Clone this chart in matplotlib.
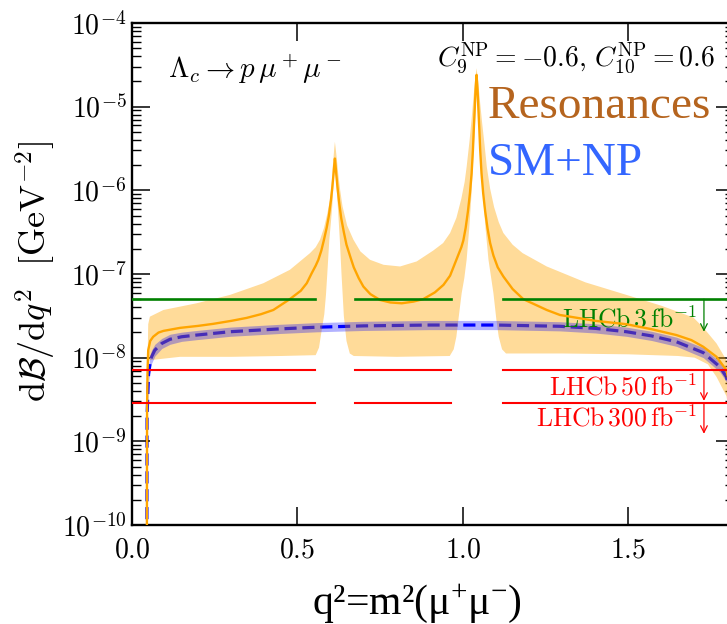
import numpy as np
import matplotlib
matplotlib.use("Agg")
from matplotlib import pyplot as plt
from matplotlib.ticker import FixedLocator, LogLocator, FuncFormatter, NullLocator

plt.rcParams["mathtext.fontset"] = "cm"
plt.rcParams["mathtext.rm"] = "Liberation Serif"
plt.rcParams["mathtext.it"] = "Liberation Serif:italic"
plt.rcParams["font.family"] = ["DejaVu Serif"]

# --- data (values as log10 of dB/dq^2) ---
# resonance curve (orange line)
res_q2 = [0.0447, 0.0455, 0.047, 0.049, 0.055, 0.064, 0.080, 0.095, 0.145, 0.200, 0.245, 0.300,
          0.346, 0.390, 0.427, 0.477, 0.510, 0.528, 0.543, 0.555, 0.563, 0.572, 0.580, 0.588,
          0.595, 0.601, 0.605, 0.609, 0.611, 0.613, 0.615, 0.617, 0.621, 0.626, 0.632, 0.640,
          0.648, 0.660, 0.670, 0.685, 0.699, 0.720, 0.749, 0.780, 0.815, 0.850, 0.880, 0.915,
          0.941, 0.961, 0.981, 0.995, 1.001, 1.008, 1.015, 1.021, 1.026, 1.030, 1.033, 1.036,
          1.038, 1.041, 1.044, 1.046, 1.049, 1.052, 1.056, 1.061, 1.067, 1.074, 1.082, 1.092,
          1.105, 1.122, 1.150, 1.182, 1.253, 1.293, 1.400, 1.494, 1.570, 1.645, 1.690, 1.726,
          1.766, 1.796, 1.810, 1.817]
res_log = [-11.0, -8.60, -8.15, -7.91, -7.80, -7.75, -7.70, -7.68, -7.644, -7.62, -7.596, -7.56,
           -7.525, -7.48, -7.43, -7.30, -7.20, -7.11, -6.99, -6.90, -6.83, -6.72, -6.59, -6.45,
           -6.30, -6.12, -5.97, -5.80, -5.70, -5.62, -5.70, -5.80, -5.97, -6.15, -6.33, -6.50,
           -6.65, -6.80, -6.92, -7.05, -7.15, -7.24, -7.31, -7.34, -7.35, -7.33, -7.30, -7.22,
           -7.13, -7.02, -6.82, -6.68, -6.60, -6.45, -6.25, -6.035, -5.80, -5.52, -5.24, -4.98,
           -4.80, -4.62, -4.80, -4.98, -5.24, -5.52, -5.80, -6.035, -6.25, -6.45, -6.63, -6.78,
           -6.92, -7.03, -7.18, -7.30, -7.43, -7.49, -7.56, -7.60, -7.66, -7.73, -7.79, -7.87,
           -7.99, -8.15, -8.40, -9.50]

# resonance uncertainty band, upper edge
band_hi_q2 = [0.0447, 0.046, 0.049, 0.054, 0.095, 0.195, 0.296, 0.397, 0.477, 0.538, 0.555,
              0.568, 0.580, 0.590, 0.598, 0.603, 0.606, 0.609, 0.611, 0.613, 0.616, 0.619,
              0.623, 0.629, 0.636, 0.650, 0.669, 0.690, 0.719, 0.760, 0.810, 0.860, 0.910,
              0.940, 0.961, 0.980, 0.995, 1.005, 1.011, 1.020, 1.026, 1.031, 1.036, 1.041,
              1.046, 1.051, 1.058, 1.065, 1.072, 1.082, 1.094, 1.108, 1.122, 1.150, 1.180,
              1.253, 1.370, 1.494, 1.600, 1.696, 1.726, 1.766, 1.796, 1.810, 1.817]
band_hi_log = [-11.0, -8.30, -7.60, -7.51, -7.43, -7.35, -7.25, -7.11, -6.95, -6.75, -6.68,
               -6.59, -6.45, -6.28, -6.115, -5.95, -5.75, -5.60, -5.50, -5.42, -5.52, -5.63,
               -5.80, -6.00, -6.19, -6.42, -6.59, -6.73, -6.83, -6.89, -6.91, -6.85, -6.72,
               -6.63, -6.51, -6.33, -6.10, -5.90, -5.72, -5.40, -5.15, -4.92, -4.70, -4.54,
               -4.70, -4.92, -5.20, -5.45, -5.72, -5.98, -6.20, -6.38, -6.51, -6.65, -6.75,
               -6.91, -7.10, -7.25, -7.38, -7.52, -7.64, -7.83, -8.03, -8.30, -9.50]

# resonance uncertainty band, lower edge
band_lo_q2 = [0.0447, 0.0465, 0.050, 0.054, 0.145, 0.300, 0.450, 0.555, 0.565, 0.572, 0.581,
              0.586, 0.590, 0.596, 0.601, 0.605, 0.608, 0.611, 0.613, 0.616, 0.619, 0.622,
              0.625, 0.628, 0.633, 0.640, 0.648, 0.658, 0.670, 0.800, 0.960, 0.972, 0.980,
              0.986, 0.996, 1.004, 1.011, 1.019, 1.026, 1.031, 1.036, 1.041, 1.048, 1.054,
              1.060, 1.068, 1.077, 1.092, 1.101, 1.108, 1.118, 1.130, 1.300, 1.500, 1.650,
              1.700, 1.740, 1.766, 1.796, 1.810, 1.817]
band_lo_log = [-11.0, -8.50, -8.05, -8.03, -7.99, -7.99, -7.98, -7.97, -7.88, -7.70, -7.48,
               -7.25, -7.00, -6.60, -6.38, -6.19, -6.00, -5.80, -5.68, -5.85, -6.02, -6.20,
               -6.40, -6.60, -7.00, -7.50, -7.80, -7.95, -7.98, -7.99, -7.98, -7.90, -7.75,
               -7.55, -7.23, -7.05, -6.83, -6.45, -6.03, -5.62, -5.24, -4.80, -5.24, -5.62,
               -6.03, -6.45, -6.83, -7.23, -7.55, -7.75, -7.90, -7.95, -7.95, -7.96, -7.98,
               -8.00, -8.08, -8.23, -8.46, -8.80, -11.0]

# SM+NP curve (dashed) with its band half-width
sm_q2 = [0.0447, 0.0455, 0.050, 0.055, 0.059, 0.069, 0.090, 0.115, 0.150, 0.195, 0.296, 0.447,
         0.558, 0.700, 0.900, 1.100, 1.293, 1.400, 1.494, 1.570, 1.645, 1.726, 1.776, 1.796,
         1.810, 1.817]
sm_log = [-11.0, -8.70, -8.20, -8.05, -7.99, -7.91, -7.83, -7.78, -7.75, -7.73, -7.69, -7.656,
          -7.636, -7.62, -7.61, -7.61, -7.625, -7.65, -7.69, -7.74, -7.81, -7.94, -8.11, -8.23,
          -8.50, -9.50]
sm_err = [0.10, 0.10, 0.10, 0.09, 0.08, 0.07, 0.06, 0.06, 0.055, 0.055, 0.055, 0.055,
          0.055, 0.055, 0.055, 0.055, 0.055, 0.055, 0.055, 0.055, 0.055, 0.06, 0.06, 0.06,
          0.06, 0.06]

# LHCb limits
lim_3fb = 5.0e-8
lim_50fb = 7.1e-9
lim_300fb = 2.9e-9
seg_edges = [(0.0, 0.553), (0.674, 0.963), (1.122, 1.82)]
arrow_q2 = 1.728

xticks = [0.0, 0.5, 1.0, 1.5]

# --- figure ---
fig = plt.figure(figsize=(7.27, 6.24), dpi=100)
ax = fig.add_axes([132 / 727, 99 / 624, 602.4 / 727, 502 / 624])

res = 10 ** np.array(res_log)
hi = 10 ** np.array(band_hi_log)
lo = 10 ** np.array(band_lo_log)
sm = 10 ** np.array(sm_log)
sm_hi = 10 ** (np.array(sm_log) + np.array(sm_err))
sm_lo = 10 ** (np.array(sm_log) - np.array(sm_err))

# band as polygon: upper edge then lower edge reversed
poly_x = np.concatenate([band_hi_q2, band_lo_q2[::-1]])
poly_y = np.concatenate([hi, lo[::-1]])

ax.plot(sm_q2, sm, color="blue", lw=2.3, dashes=(3.8, 1.8), zorder=1)
ax.fill(poly_x, poly_y, color="orange", alpha=0.4, lw=0, zorder=2)
ax.fill_between(sm_q2, sm_lo, sm_hi, color="blue", alpha=0.3, lw=0, zorder=3)
ax.plot(res_q2, res, color="orange", lw=1.7, zorder=4)

for a, b in seg_edges:
    ax.plot([a, b], [lim_3fb, lim_3fb], color="green", lw=1.9, zorder=5)
    ax.plot([a, b], [lim_50fb, lim_50fb], color="red", lw=1.5, zorder=5)
    ax.plot([a, b], [lim_300fb, lim_300fb], color="red", lw=1.5, zorder=5)

arr = dict(arrowstyle="->", lw=0.9, shrinkA=0, shrinkB=0, mutation_scale=12)
ax.annotate("", xy=(arrow_q2, 2.04e-8), xytext=(arrow_q2, lim_3fb),
            arrowprops=dict(arr, color="green"), zorder=6)
ax.annotate("", xy=(arrow_q2, 3.05e-9), xytext=(arrow_q2, lim_50fb),
            arrowprops=dict(arr, color="red"), zorder=6)
ax.annotate("", xy=(arrow_q2, 1.23e-9), xytext=(arrow_q2, lim_300fb),
            arrowprops=dict(arr, color="red"), zorder=6)

ax.text(1.707, 2.3e-8, r"$\mathrm{LHCb}\,3\,\mathrm{fb}^{-1}$", color="green",
        fontsize=18.5, ha="right", va="baseline", math_fontfamily="cm")
ax.text(1.707, 3.55e-9, r"$\mathrm{LHCb}\,50\,\mathrm{fb}^{-1}$", color="red",
        fontsize=18.5, ha="right", va="baseline", math_fontfamily="cm")
ax.text(1.707, 1.5e-9, r"$\mathrm{LHCb}\,300\,\mathrm{fb}^{-1}$", color="red",
        fontsize=18.5, ha="right", va="baseline", math_fontfamily="cm")

ax.text(0.06, 0.890, r"$\Lambda_c \to p\,\mu^+\mu^-$", transform=ax.transAxes,
        fontsize=21, ha="left", va="baseline")
ax.text(0.968, 0.912, r"$C_9^{\rm NP}=-0.6,\,C_{10}^{\rm NP}=0.6$", transform=ax.transAxes,
        fontsize=20, ha="right", va="baseline")
ax.text(0.591, 0.811, "Resonances", transform=ax.transAxes, color="#b5641e",
        fontsize=34, family=["Liberation Serif", "DejaVu Serif"], va="baseline")
ax.text(0.591, 0.697, "SM+NP", transform=ax.transAxes, color="#3366ff",
        fontsize=34, family=["Liberation Serif", "DejaVu Serif"], va="baseline")

ax.set_yscale("log")
ax.set_xlim(0, 1.82)
ax.set_ylim(1e-10, 1e-4)

ax.xaxis.set_major_locator(FixedLocator(xticks))
ax.xaxis.set_minor_locator(NullLocator())
ax.xaxis.set_major_formatter(FuncFormatter(lambda v, p: r"$%.1f$" % v))
ax.yaxis.set_major_locator(LogLocator(base=10, numticks=10))
ax.yaxis.set_minor_locator(LogLocator(base=10, subs=np.arange(2, 10), numticks=10))
ax.yaxis.set_major_formatter(FuncFormatter(lambda v, p: r"$10^{%d}$" % round(np.log10(v))))

ax.tick_params(which="both", direction="in", top=True, right=True, labelsize=20)
ax.tick_params(which="major", length=13, width=1.1)
ax.tick_params(which="minor", length=6.5, width=1.0)
ax.tick_params(axis="x", pad=8)
ax.tick_params(axis="y", pad=4)
for s in ax.spines.values():
    s.set_linewidth(1.7)

ax.set_ylabel(r"$\mathrm{d}\mathcal{B}/\mathrm{d}q^2\ \ [\mathrm{GeV}^{-2}]$", fontsize=26,
              va="center")
ax.yaxis.set_label_coords(-0.16, 0.505)
ax.set_xlabel(r"q²=m²(μ$^{+}$μ$^{-}$)", fontsize=30, math_fontfamily="custom",
              family=["Liberation Serif", "DejaVu Serif"], va="baseline")
ax.xaxis.set_label_coords(0.472, -0.177)

fig.savefig("out.png", dpi=100)
